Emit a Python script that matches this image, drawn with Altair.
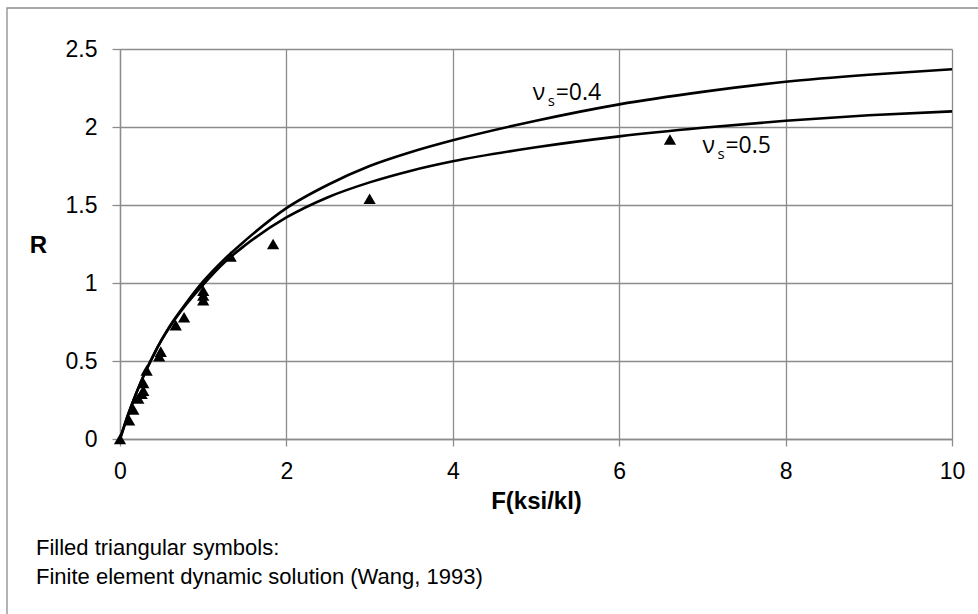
import altair as alt
import pandas as pd

# ---- data ----
curve_F = [0, 0.1, 0.2, 0.3, 0.4, 0.5, 0.6, 0.8, 1.0, 1.25, 1.5, 2, 2.5, 3, 3.5, 4, 5, 6, 7, 8, 9, 10]
curve_R_04 = [0, 0.16, 0.30, 0.425, 0.535, 0.635, 0.725, 0.875, 1.01, 1.15, 1.27, 1.48, 1.63, 1.75, 1.84, 1.915, 2.04, 2.145, 2.225, 2.29, 2.335, 2.37]
curve_R_05 = [0, 0.16, 0.30, 0.425, 0.535, 0.635, 0.72, 0.865, 0.99, 1.13, 1.24, 1.42, 1.55, 1.645, 1.72, 1.78, 1.87, 1.94, 1.995, 2.04, 2.075, 2.10]

fem_F = [0, 0.11, 0.16, 0.22, 0.26, 0.28, 0.28, 0.32, 0.47, 0.49, 0.67, 0.77, 1.0, 1.0, 1.0, 1.33, 1.84, 3.0, 6.61]
fem_R = [0, 0.12, 0.19, 0.26, 0.29, 0.31, 0.36, 0.44, 0.53, 0.56, 0.73, 0.78, 0.89, 0.92, 0.95, 1.17, 1.25, 1.54, 1.92]

label_values = ["=0.4", "=0.5"]
label_F = [4.96, 7.0]
label_R = [2.218, 1.878]

x_ticks = [0, 2, 4, 6, 8, 10]
y_ticks = [0, 0.5, 1, 1.5, 2, 2.5]

notes = ["Filled triangular symbols:", "Finite element dynamic solution (Wang, 1993)"]

# ---- tables ----
curves = pd.concat([
    pd.DataFrame({"F": curve_F, "R": curve_R_04, "s": "0.4"}),
    pd.DataFrame({"F": curve_F, "R": curve_R_05, "s": "0.5"}),
])
fem = pd.DataFrame({"F": fem_F, "R": fem_R})
labels = pd.DataFrame({"F": label_F, "R": label_R, "t": label_values})

GRID = "#8c8c8c"
FONT = "Liberation Sans"
LFONT = "Open Sans"
TICKFS = 23

xs = alt.Scale(domain=[0, 10], nice=False, zero=False)
ys = alt.Scale(domain=[0, 2.5], nice=False, zero=False)

x_axis = alt.Axis(values=x_ticks, format=".0f", grid=True, gridColor=GRID, gridWidth=1.3,
                  domainColor=GRID, domainWidth=1.3, tickColor=GRID, tickWidth=1.3, tickSize=7,
                  labelFont=FONT, labelFontSize=TICKFS, labelColor="black", labelPadding=14,
                  labelFlush=False,
                  title="F(ksi/kl)", titleFont=FONT, titleFontSize=24, titleFontWeight="bold",
                  titleColor="black", titleY=62, titleBaseline="middle")
y_axis = alt.Axis(values=y_ticks, format=".1~f", grid=True, gridColor=GRID, gridWidth=1.3,
                  domainColor=GRID, domainWidth=1.3, tickColor=GRID, tickWidth=1.3, tickSize=8,
                  labelFont=FONT, labelFontSize=TICKFS, labelColor="black", labelPadding=15,
                  labelFlush=False,
                  title="R", titleFont=FONT, titleFontSize=24, titleFontWeight="bold",
                  titleColor="black", titleAngle=0, titleX=-82, titleY=196,
                  titleAlign="center", titleBaseline="middle")

border = alt.Chart(pd.DataFrame({"a": [0]})).mark_rect(
    fill="white", fillOpacity=0, stroke=GRID, strokeWidth=1.3
).encode(x=alt.value(-113), y=alt.value(-41), x2=alt.value(1000), y2=alt.value(700))

lines = alt.Chart(curves).mark_line(color="black", strokeWidth=2.6,
                                    interpolate="monotone").encode(
    x=alt.X("F:Q", scale=xs, axis=x_axis),
    y=alt.Y("R:Q", scale=ys, axis=y_axis),
    detail="s:N",
)

pts = alt.Chart(fem).mark_point(shape="triangle-up", filled=True, color="black",
                                 size=150, opacity=1).encode(
    x=alt.X("F:Q", scale=xs), y=alt.Y("R:Q", scale=ys))

nu = alt.Chart(labels).mark_text(text="ν", font=LFONT, fontSize=23, align="left",
                                  baseline="middle", color="black").encode(
    x=alt.X("F:Q", scale=xs), y=alt.Y("R:Q", scale=ys))
sub = alt.Chart(labels).mark_text(text="s", font=LFONT, fontSize=15, align="left",
                                   baseline="middle", color="black", dx=15, dy=8).encode(
    x=alt.X("F:Q", scale=xs), y=alt.Y("R:Q", scale=ys))
val = alt.Chart(labels).mark_text(font=LFONT, fontSize=23, align="left",
                                   baseline="middle", color="black", dx=23).encode(
    x=alt.X("F:Q", scale=xs), y=alt.Y("R:Q", scale=ys), text="t:N")

note1 = alt.Chart(pd.DataFrame({"t": [notes[0]]})).mark_text(
    font=FONT, fontSize=22, align="left", baseline="middle", color="black"
).encode(x=alt.value(-84), y=alt.value(499), text="t:N")
note2 = alt.Chart(pd.DataFrame({"t": [notes[1]]})).mark_text(
    font=FONT, fontSize=22, align="left", baseline="middle", color="black"
).encode(x=alt.value(-84), y=alt.value(528), text="t:N")

chart = alt.layer(border, lines, pts, nu, sub, val, note1, note2).properties(
    width=832, height=390,
    autosize=alt.AutoSizeParams(type="none"),
    padding={"left": 120, "top": 49, "right": 26, "bottom": 175},
    background="white",
).configure_view(stroke=None)

chart.save("out.html", embed_options={"renderer": "svg", "actions": False})
